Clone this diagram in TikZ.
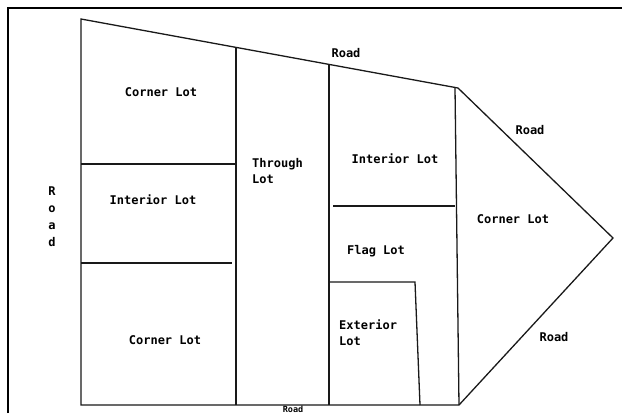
\documentclass[tikz,border=0pt]{standalone}
\usepackage{fontspec}
\setmonofont{DejaVu Sans Mono}
\begin{document}
\begin{tikzpicture}[x=1pt,y=-1pt,
		lotline/.style={line width=1.3pt,black!90},
		lotlabel/.style={font=\ttfamily\bfseries\fontsize{12}{16}\selectfont,inner sep=0pt},
		roadlabel/.style={font=\ttfamily\bfseries\fontsize{12}{17}\selectfont,inner sep=0pt,align=center}]
			\useasboundingbox (0,0) rectangle (622,413);
			\coordinate (topleft) at (81,19);
			\coordinate (topright) at (458,88);
			\coordinate (tip) at (613,238);
			\coordinate (botright) at (459,405);
			\coordinate (botleft) at (81,405);
			
			% frame
			\draw[line width=2pt] (8,413) -- (8,8) -- (622,8);
			
			% outline of the block
			\draw[lotline] (topleft) -- (topright) -- (tip) -- (botright) -- (botleft) -- cycle;
			
			% dividing lines
			\draw[lotline] (236,47.4) -- (236,405);
			\draw[lotline] (329,64.4) -- (329,405);
			\draw[lotline] (455,87.5) -- (botright);
			\draw[lotline] (81,164) -- (236,164);
			\draw[lotline] (81,263) -- (232,263);
			\draw[lotline] (333,206) -- (455,206);
			\draw[lotline] (329,282) -- (415,282) -- (420,405);
			
			% lots
			\node[lotlabel] (cornerA) at (161,92) {Corner Lot};
			\node[lotlabel] (interiorA) at (153,200) {Interior Lot};
			\node[lotlabel] (cornerB) at (165,340) {Corner Lot};
			\node[lotlabel,align=left,anchor=west] (through) at (252,171) {Through\\Lot};
			\node[lotlabel] (interiorB) at (395,159) {Interior Lot};
			\node[lotlabel] (flag) at (376,251) {Flag Lot};
			\node[lotlabel,align=left,anchor=west] (exterior) at (339,333) {Exterior\\Lot};
			\node[lotlabel] (cornerC) at (513,219) {Corner Lot};
			
			% roads
			\node[lotlabel] (roadtop) at (346,53) {Road};
			\node[lotlabel] (roadupper) at (530,130) {Road};
			\node[lotlabel] (roadlower) at (554,337) {Road};
			\node[roadlabel] (roadleft) at (52,216.5) {R\\o\\a\\d};
			\node[lotlabel,font=\ttfamily\bfseries\fontsize{8.5}{10}\selectfont,anchor=south] (roadbottom) at (293,412.5) {Road};
		\end{tikzpicture}
\end{document}
